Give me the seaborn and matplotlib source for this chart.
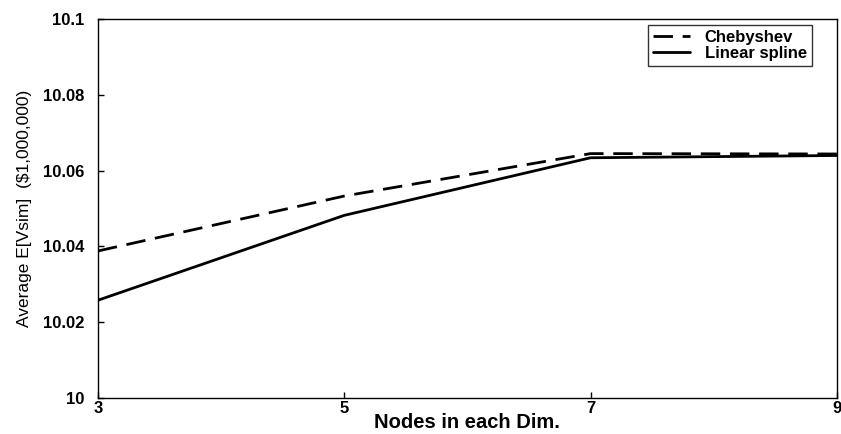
import matplotlib
matplotlib.use("Agg")
import matplotlib.pyplot as plt
import seaborn as sns
import pandas as pd

nodes = [3, 5, 7, 9]
chebyshev = [10.0388, 10.0533, 10.0645, 10.0644]
linear_spline = [10.0258, 10.0482, 10.0634, 10.0640]
yticks = [10.0, 10.02, 10.04, 10.06, 10.08, 10.1]
ytick_labels = ["10", "10.02", "10.04", "10.06", "10.08", "10.1"]

sns.set_style("ticks")
plt.rcParams['font.family'] = ['Liberation Sans', 'DejaVu Sans']
plt.rcParams['text.color'] = 'black'
plt.rcParams['axes.labelcolor'] = 'black'

df = pd.concat([
    pd.DataFrame({"nodes": nodes, "value": chebyshev, "method": "Chebyshev"}),
    pd.DataFrame({"nodes": nodes, "value": linear_spline, "method": "Linear spline"}),
])

fig = plt.figure(figsize=(8.41, 4.34), dpi=100)
ax = fig.add_axes([0.1165, 0.083, 0.8785, 0.873])
sns.lineplot(data=df, x="nodes", y="value", style="method",
             dashes={"Chebyshev": (7, 3.5), "Linear spline": ""},
             color="black", linewidth=2.0, ax=ax)

ax.set_xlim(3, 9)
ax.set_ylim(10.0, 10.1)
ax.set_xticks([3, 5, 7, 9])
ax.set_xticklabels(["3", "5", "7", "9"], fontweight="bold", fontsize=12)
ax.set_yticks(yticks)
ax.set_yticklabels(ytick_labels, fontweight="bold", fontsize=12)
ax.tick_params(direction="in", length=4, width=1, colors="black")
ax.tick_params(axis="y", pad=10)
ax.tick_params(axis="x", pad=2)
for s in ax.spines.values():
    s.set_visible(True)
    s.set_color("black")
    s.set_linewidth(1.0)
ax.set_xlabel("Nodes in each Dim.", fontweight="bold", fontsize=14.5, labelpad=-2)
ax.set_ylabel("Average E[Vsim]  ($1,000,000)", fontsize=12.5, labelpad=8)

leg = ax.legend(loc="upper right", bbox_to_anchor=(0.966, 0.984), frameon=True,
                fancybox=False, edgecolor="black", handlelength=2.2,
                prop={"weight": "bold", "size": 12}, borderpad=0.3,
                labelspacing=0.05, handletextpad=0.9, borderaxespad=0.0)
leg.get_frame().set_linewidth(1.0)

fig.savefig("out.png", dpi=100)
